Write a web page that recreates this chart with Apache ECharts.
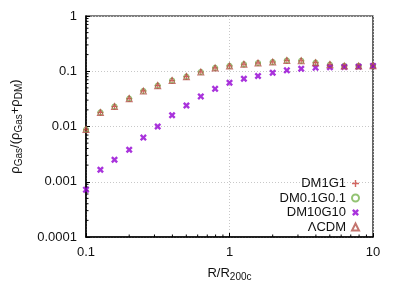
<!DOCTYPE html>
<html><head><meta charset="utf-8">
<script src="https://cdn.jsdelivr.net/npm/echarts@6/dist/echarts.min.js"></script>
<style>html,body{margin:0;padding:0;background:#fff}#c{width:399px;height:298px}</style>
</head><body><div id="c"></div>
<script>
// ---- data ----
const radius   = [0.1, 0.126, 0.158, 0.2, 0.251, 0.316, 0.398, 0.501, 0.631, 0.794, 1, 1.26, 1.58, 2, 2.51, 3.16, 3.98, 5.01, 6.31, 7.94, 10];
const dm1g1    = [0.0088, 0.018, 0.023, 0.032, 0.044, 0.055, 0.068, 0.080, 0.097, 0.115, 0.125, 0.134, 0.141, 0.147, 0.157, 0.155, 0.143, 0.132, 0.125, 0.125, 0.126];
const dm01g01  = [0.0088, 0.018, 0.023, 0.032, 0.044, 0.055, 0.068, 0.080, 0.097, 0.115, 0.125, 0.134, 0.141, 0.147, 0.157, 0.155, 0.143, 0.132, 0.125, 0.125, 0.126];
const dm10g10  = [0.00072, 0.00165, 0.0025, 0.0038, 0.0063, 0.0100, 0.016, 0.024, 0.035, 0.048, 0.062, 0.073, 0.082, 0.094, 0.104, 0.111, 0.116, 0.118, 0.120, 0.121, 0.125];
const lcdm     = [0.0088, 0.018, 0.023, 0.032, 0.044, 0.055, 0.068, 0.080, 0.097, 0.115, 0.125, 0.134, 0.141, 0.147, 0.157, 0.155, 0.143, 0.132, 0.125, 0.125, 0.126];
const seriesNames = ['DM1G1', 'DM0.1G0.1', 'DM10G10', '\u039bCDM'];
const xTickLabels = ['0.1', '1', '10'];
const yTickLabels = ['0.0001', '0.001', '0.01', '0.1', '1'];
const xMinorTicks = [0.2,0.3,0.4,0.5,0.6,0.7,0.8,0.9,2,3,4,5,6,7,8,9];
const yMinorTicks = [0.0002,0.0003,0.0004,0.0005,0.0006,0.0007,0.0008,0.0009,0.002,0.003,0.004,0.005,0.006,0.007,0.008,0.009,0.02,0.03,0.04,0.05,0.06,0.07,0.08,0.09,0.2,0.3,0.4,0.5,0.6,0.7,0.8,0.9];

const FONT = 'Liberation Sans';
const PLUS = 'path://M4,0 H6 V4 H10 V6 H6 V10 H4 V6 H0 V4 H4 Z';
const XMARK = 'path://M0,2.4 L2.4,0 L5,2.6 L7.6,0 L10,2.4 L7.4,5 L10,7.6 L7.6,10 L5,7.4 L2.4,10 L0,7.6 L2.6,5 Z';
const pair = (xs, ys) => xs.map((x, i) => [x, ys[i]]);
const fmt = labels => v => { for (const l of labels) { if (Math.abs(Number(l) - v) / Number(l) < 1e-6) return l; } return ''; };

const minorData = xMinorTicks.map(v => [v, 1, 0]).concat(yMinorTicks.map(v => [1, v, 1]));

const chart = echarts.init(document.getElementById('c'), null, {renderer: 'canvas'});
chart.setOption({
  animation: false,
  textStyle: {fontFamily: FONT},
  grid: {left: 86, right: 26, top: 16, bottom: 61, show: true, borderColor: '#000', borderWidth: 1.2, backgroundColor: 'transparent'},
  legend: {
    orient: 'vertical', right: 34, bottom: 59, align: 'right',
    itemWidth: 7, itemHeight: 7, itemGap: 0.5,
    textStyle: {fontFamily: FONT, fontSize: 13, color: '#111', lineHeight: 14, padding: [0, 1, 0, 0]},
    data: [
      {name: seriesNames[0], icon: PLUS, itemStyle: {color: '#c8403a'}},
      {name: seriesNames[1]},
      {name: seriesNames[2]},
      {name: seriesNames[3]}
    ]
  },
  xAxis: {
    type: 'log', logBase: 10, min: 0.1, max: 10,
    name: 'R/R{s|200c}', nameLocation: 'middle', nameGap: 27,
    nameTextStyle: {fontFamily: FONT, fontSize: 13, color: '#111', rich: {s: {fontFamily: FONT, fontSize: 10, color: '#111', padding: [8, 0, 0, 0]}}},
    axisLine: {lineStyle: {color: '#000', width: 1.5}},
    axisTick: {inside: true, length: 4, lineStyle: {color: '#000'}},
    axisLabel: {fontFamily: FONT, fontSize: 13, color: '#111', margin: 9, formatter: fmt(xTickLabels)},
    splitLine: {show: true, lineStyle: {color: '#c8c8c8', type: [1, 2], width: 1}},
    minorTick: {show: false}
  },
  yAxis: {
    type: 'log', logBase: 10, min: 0.0001, max: 1,
    name: '\u03c1{s|Gas}/(\u03c1{s|Gas}+\u03c1{s|DM})', nameLocation: 'middle', nameGap: 62, nameRotate: 90,
    nameTextStyle: {fontFamily: FONT, fontSize: 13, color: '#111', rich: {s: {fontFamily: FONT, fontSize: 10, color: '#111', padding: [8, 0, 0, 0]}}},
    axisLine: {lineStyle: {color: '#000', width: 1.5}},
    axisTick: {inside: true, length: 4, lineStyle: {color: '#000'}},
    axisLabel: {fontFamily: FONT, fontSize: 13, color: '#111', margin: 9, formatter: fmt(yTickLabels)},
    splitLine: {show: true, lineStyle: {color: '#c8c8c8', type: [1, 2], width: 1}}
  },
  series: [
    {
      type: 'custom', silent: true, clip: false, z: 1, legendHoverLink: false,
      data: minorData,
      renderItem: function (params, api) {
        const cs = params.coordSys;
        if (api.value(2) === 0) {
          const x = api.coord([api.value(0), 1])[0];
          const yb = cs.y + cs.height;
          return {type: 'line', shape: {x1: x, y1: yb, x2: x, y2: yb - 2.5}, style: {stroke: '#000', lineWidth: 1}};
        } else {
          const y = api.coord([1, api.value(1)])[1];
          return {type: 'line', shape: {x1: cs.x, y1: y, x2: cs.x + 2.5, y2: y}, style: {stroke: '#000', lineWidth: 1}};
        }
      }
    },
    {
      name: seriesNames[0], type: 'scatter', clip: false, z: 3,
      symbol: PLUS, symbolSize: 6,
      itemStyle: {color: '#c8403a'},
      data: pair(radius, dm1g1)
    },
    {
      name: seriesNames[1], type: 'scatter', clip: false, z: 3,
      symbol: 'circle', symbolSize: 5,
      itemStyle: {color: 'rgba(255,255,255,0)', borderColor: '#78b450', borderWidth: 1.1},
      data: pair(radius, dm01g01)
    },
    {
      name: seriesNames[2], type: 'scatter', clip: false, z: 3,
      symbol: XMARK, symbolSize: 7,
      itemStyle: {color: '#9400d3'},
      data: pair(radius, dm10g10)
    },
    {
      name: seriesNames[3], type: 'scatter', clip: false, z: 4,
      symbol: 'triangle', symbolSize: 6,
      itemStyle: {color: 'rgba(255,255,255,0)', borderColor: '#b5534b', borderWidth: 1.1},
      data: pair(radius, lcdm)
    }
  ]
});
</script>
</body></html>
